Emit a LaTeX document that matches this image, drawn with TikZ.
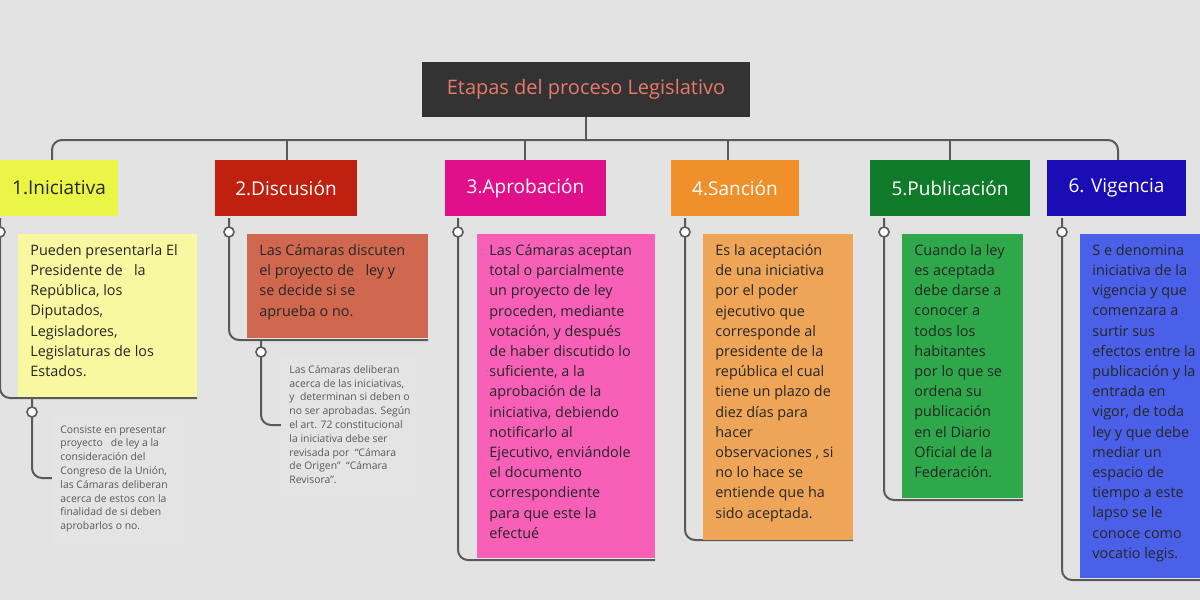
\documentclass[tikz,border=0pt]{standalone}
\usepackage{fontspec}
\setmainfont{Open Sans}
\begin{document}
\begin{tikzpicture}[x=0.5pt,y=-0.5pt,
  ln/.style={draw=black!65,line width=1pt,rounded corners=5pt},
  dot/.style={circle,draw=black!65,line width=0.8pt,fill=white,inner sep=0pt,minimum size=5pt},
  hd/.style={anchor=north west,inner sep=0pt,font=\fontsize{9.5}{11}\selectfont,text=white,align=center},
  bt/.style={anchor=north west,inner sep=0pt,align=left,font=\fontsize{7.2}{10.1}\selectfont,text=black!85},
  nt/.style={anchor=north west,inner sep=0pt,align=left,font=\fontsize{5.2}{6.9}\selectfont,text=black!65}]
\fill[gray!22] (0,0) rectangle (1200,600);
\useasboundingbox (0,0) rectangle (1200,600);
% bus
\draw[ln] (586,117) -- (586,140);
\draw[ln] (52,160) -- (52,140) -- (1118,140) -- (1118,160);
\foreach \x in {287,525,728,950} \draw[ln] (\x,140) -- (\x,160);
% title
\fill[black!80] (422,62) rectangle (750,117);
\node[font=\fontsize{10}{12}\selectfont,text={rgb,255:red,235;green,120;blue,105}] (title) at (586,89.5) {Etapas del proceso Legislativo};
% headers
\definecolor{c1}{HTML}{EAF545}\definecolor{c2}{HTML}{C0200F}\definecolor{c3}{HTML}{E0108A}
\definecolor{c4}{HTML}{F0902A}\definecolor{c5}{HTML}{0F7A2A}\definecolor{c6}{HTML}{1A0DB5}
\definecolor{b1}{HTML}{F8F8A0}\definecolor{b2}{HTML}{D06850}\definecolor{b3}{HTML}{F860B8}
\definecolor{b4}{HTML}{EEA558}\definecolor{b5}{HTML}{2EA84A}\definecolor{b6}{HTML}{4A60E8}
\definecolor{nb}{HTML}{E4E4E4}
% connectors under headers
\draw[ln] (0,218) -- (0,398) -- (197,398);
\draw[ln] (229,218) -- (229,340) -- (428,340);
\draw[ln] (458,218) -- (458,560) -- (655,560);
\draw[ln] (685,218) -- (685,540) -- (853,540);
\draw[ln] (884,218) -- (884,500) -- (1023,500);
\draw[ln] (1062,218) -- (1062,580) -- (1200,580);
\draw[ln] (32,398) -- (32,478) -- (52,478);
\draw[ln] (261,340) -- (261,425) -- (281,425);
\fill[c1] (0,160) rectangle (118,216);
\node[hd,text=black!85,anchor=center] (h1) at (59,188) {1.Iniciativa};
\fill[c2] (215,160) rectangle (357,216);
\node[hd,anchor=center] (h2) at (286,188) {2.Discusión};
\fill[c3] (445,160) rectangle (606,216);
\node[hd,anchor=center] (h3) at (525.5,188) {3.Aprobación};
\fill[c4] (671,160) rectangle (799,216);
\node[hd,anchor=center] (h4) at (735,188) {4.Sanción};
\fill[c5] (870,160) rectangle (1030,216);
\node[hd,anchor=center] (h5) at (950,188) {5.Publicación};
\fill[c6] (1047,160) rectangle (1186,216);
\node[hd,anchor=center] (h6) at (1116.5,188) {6. Vigencia};
\foreach \p in {(0,232),(229,232),(458,232),(685,232),(884,232),(1062,232),(32,412),(261,352)} \node[dot] at \p {};
% boxes
\fill[b1] (18,234) rectangle (197,397);
\node[bt] (t1) at (30,244) {Pueden presentarla El\\Presidente de \ \ la\\República, los\\Diputados,\\Legisladores,\\Legislaturas de los\\Estados.};
\fill[b2] (247,234) rectangle (428,338);
\node[bt] (t2) at (259,244) {Las Cámaras discuten\\el proyecto de \ \ ley y\\se decide si se\\aprueba o no.};
\fill[b3] (477,234) rectangle (655,558);
\node[bt] (t3) at (489,244) {Las Cámaras aceptan\\total o parcialmente\\un proyecto de ley\\proceden, mediante\\votación, y después\\de haber discutido lo\\suficiente, a la\\aprobación de la\\iniciativa, debiendo\\notificarlo al\\Ejecutivo, enviándole\\el documento\\correspondiente\\para que este la\\efectué};
\fill[b4] (703,234) rectangle (853,540);
\node[bt] (t4) at (715,244) {Es la aceptación\\de una iniciativa\\por el poder\\ejecutivo que\\corresponde al\\presidente de la\\república el cual\\tiene un plazo de\\diez días para\\hacer\\observaciones , si\\no lo hace se\\entiende que ha\\sido aceptada.};
\fill[b5] (902,234) rectangle (1023,498);
\node[bt] (t5) at (914,244) {Cuando la ley\\es aceptada\\debe darse a\\conocer a\\todos los\\habitantes\\por lo que se\\ordena su\\publicación\\en el Diario\\Oficial de la\\Federación.};
\fill[b6] (1080,234) rectangle (1200,578);
\begin{scope}
\clip (1080,234) rectangle (1200,578);
\node[bt] (t6) at (1092,244) {S e denomina\\iniciativa de la\\vigencia y que\\comenzara a\\surtir sus\\efectos entre la\\publicación y la\\entrada en\\vigor, de toda\\ley y que debe\\mediar un\\espacio de\\tiempo a este\\lapso se le\\conoce como\\vocatio legis.};
\end{scope}
% notes
\fill[nb] (52,416) rectangle (182,543);
\node[nt] (n1) at (60,425) {Consiste en presentar\\proyecto \ \ de ley a la\\consideración del\\Congreso de la Unión,\\las Cámaras deliberan\\acerca de estos con la\\finalidad de si deben\\aprobarlos o no.};
\fill[nb] (281,356) rectangle (418,497);
\node[nt] (n2) at (289,365) {Las Cámaras deliberan\\acerca de las iniciativas,\\y \ determinan si deben o\\no ser aprobadas. Según\\el art. 72 constitucional\\la iniciativa debe ser\\revisada por \ “Cámara\\de Origen” \ “Cámara\\Revisora”.};
\end{tikzpicture}
\end{document}
